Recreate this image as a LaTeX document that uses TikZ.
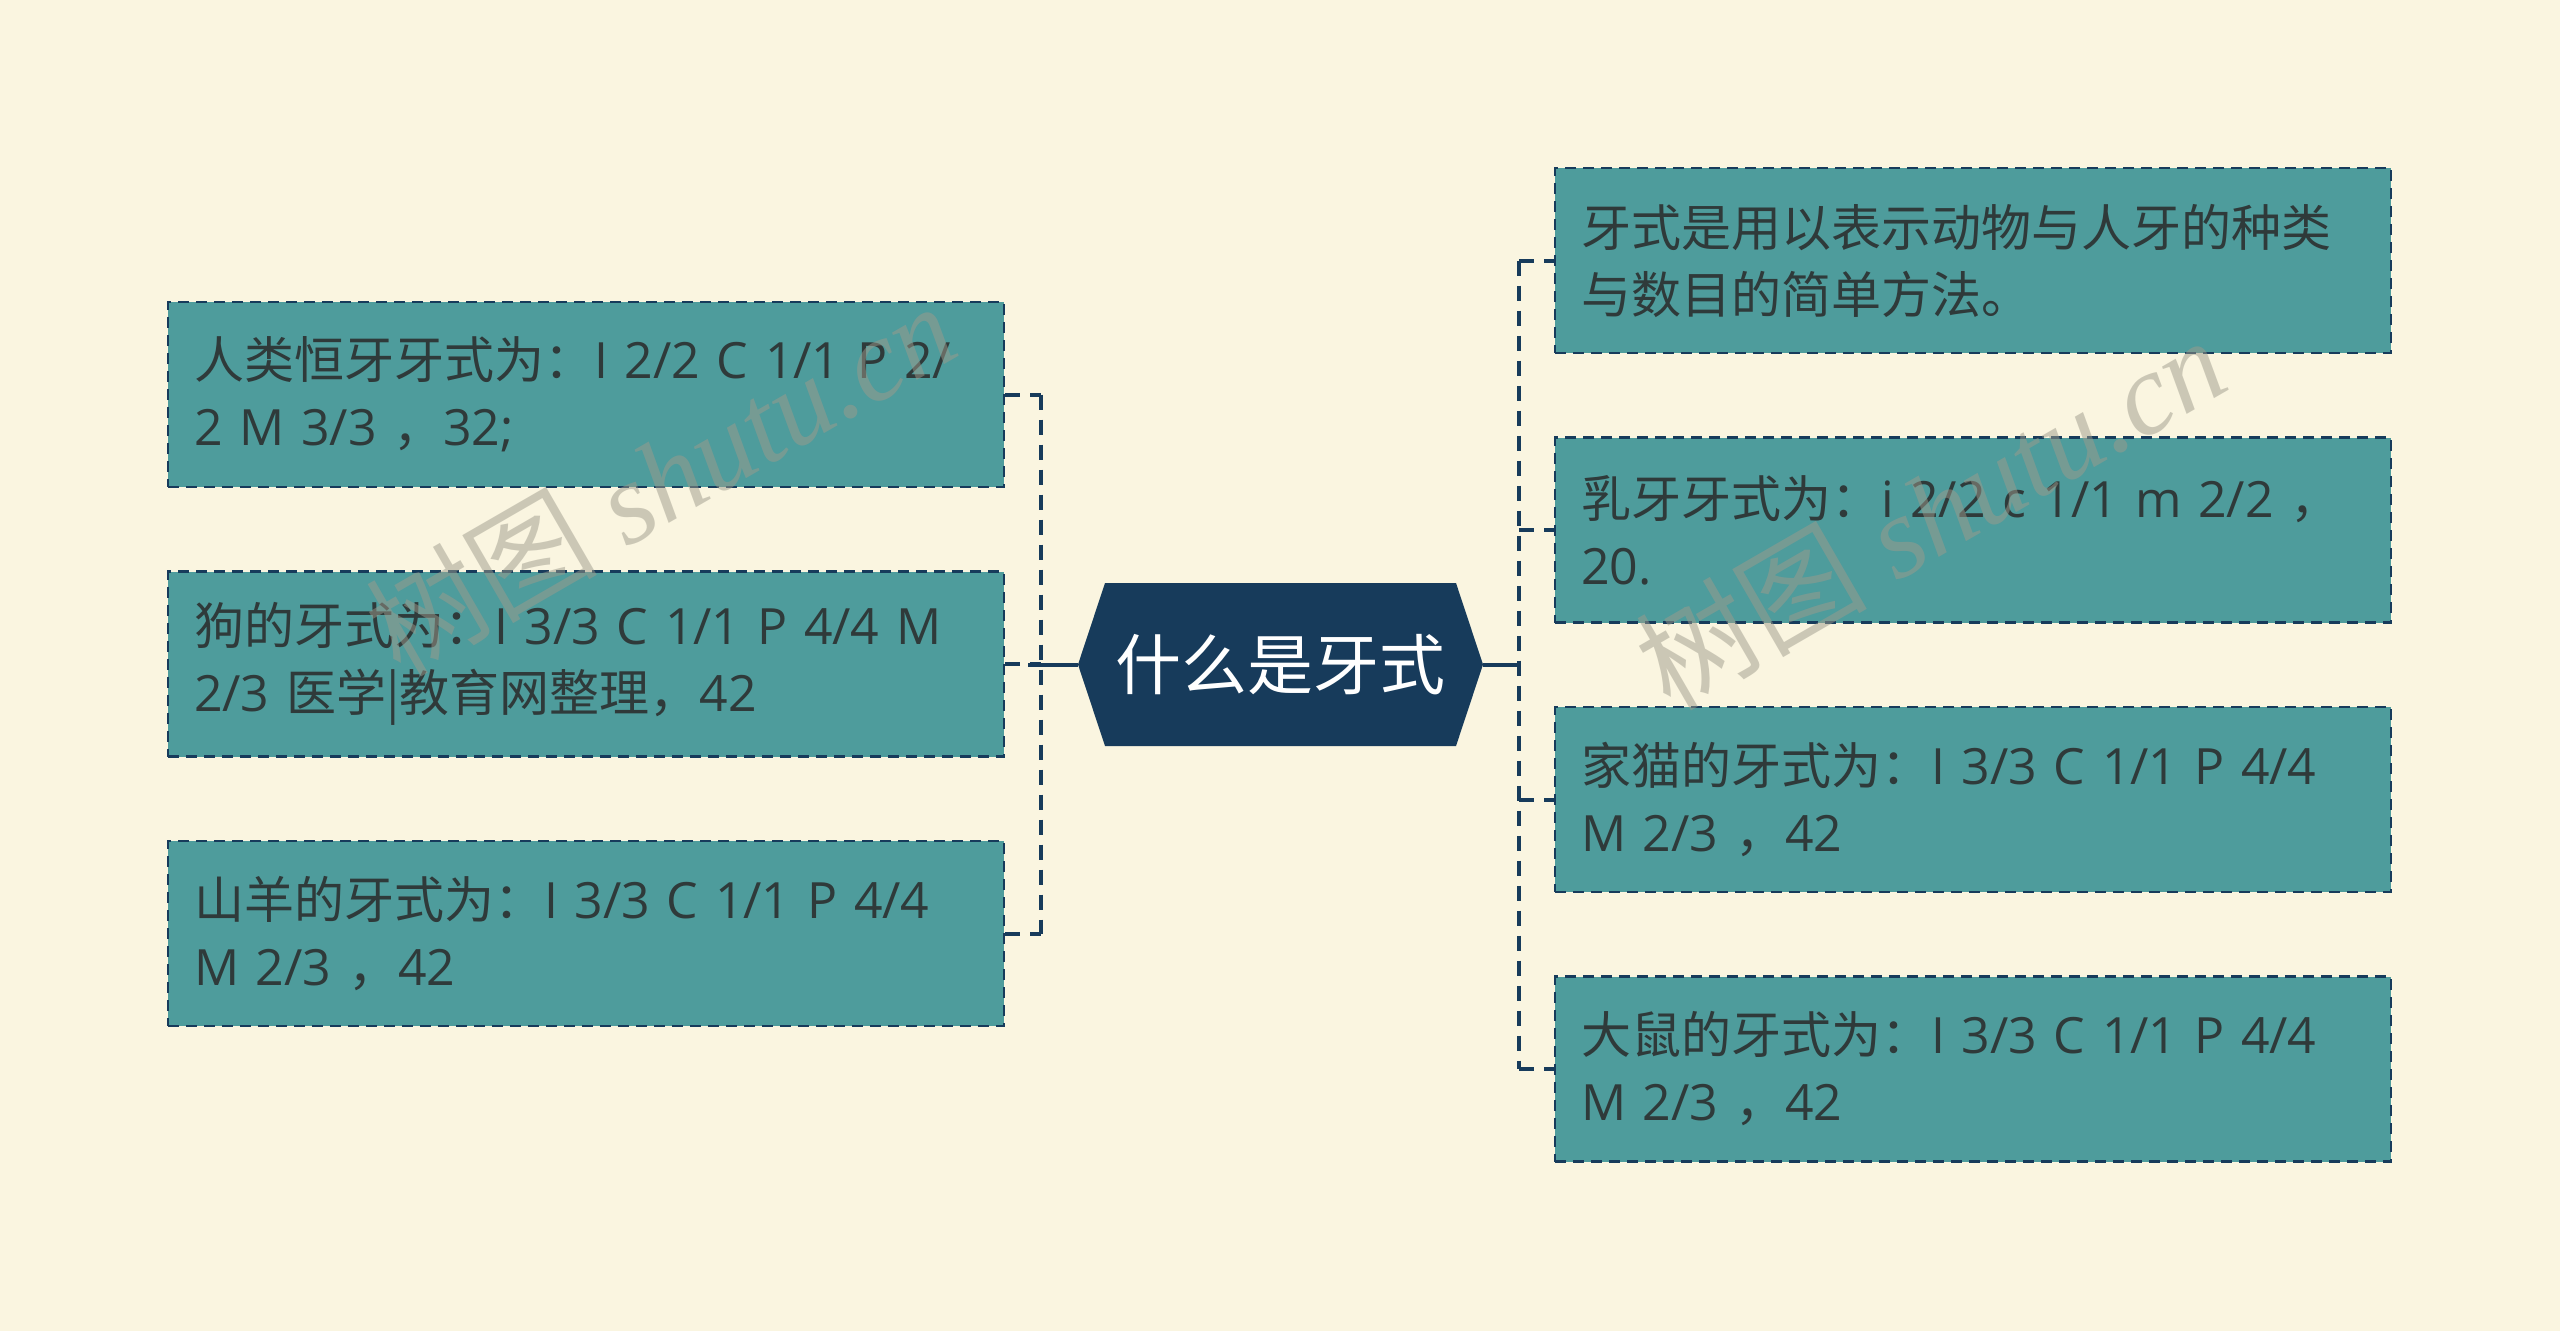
\documentclass[tikz,border=0pt]{standalone}
\usepackage{fontspec}
\setmainfont{Open Sans}
\newfontfamily\cjk{Noto Sans CJK SC}
\newfontfamily\wmserif{Liberation Serif}
\definecolor{bg}{HTML}{FAF5E0}
\definecolor{leaffill}{HTML}{4E9C9C}
\definecolor{navy}{HTML}{173B5B}
\definecolor{txt}{HTML}{2F3A3A}
\definecolor{wmgray}{HTML}{9E9B8C}
\begin{document}
\begin{tikzpicture}[x=1pt,y=-1pt,
  leaf/.style={draw=navy, line width=2.5pt, dash pattern=on 11pt off 7pt, fill=leaffill,
    minimum width=836pt, minimum height=185pt, text width=784pt, inner xsep=26pt, inner ysep=0pt,
    align=left, text=txt, font=\fontsize{50}{67}\selectfont},
  conn/.style={draw=navy, line width=4pt, dash pattern=on 15pt off 10pt},
  connsolid/.style={draw=navy, line width=4pt},
  wm/.style={text=wmgray, text opacity=0.5, rotate=30, font=\wmserif\itshape\fontsize{116}{116}\selectfont}
]
\fill[bg] (0,0) rectangle (2560,1331);
\useasboundingbox (0,0) rectangle (2560,1331);

% centre
\fill[navy] (1078,664.5) -- (1105,583) -- (1456,583) -- (1483,664.5) -- (1456,746) -- (1105,746) -- cycle;
\node[minimum width=405pt, minimum height=163pt, inner sep=0pt, text=white,
  font=\cjk\fontsize{66}{66}\selectfont] (root) at (1280.5,664.5) {什么是牙式};

% leaves left
\node[leaf] (l1) at (586,394.5) {{\cjk 人类恒牙牙式为：}I 2/2 C 1/1 P 2/\\2 M 3/3 {\cjk ，}32;};
\node[leaf] (l2) at (586,664) {{\cjk 狗的牙式为：}I 3/3 C 1/1 P 4/4 M\\2/3 {\cjk 医学|教育网整理，}42};
\node[leaf] (l3) at (586,933.5) {{\cjk 山羊的牙式为：}I 3/3 C 1/1 P 4/4\\M 2/3 {\cjk ，}42};

% leaves right
\node[leaf] (r1) at (1973,260.5) {{\cjk 牙式是用以表示动物与人牙的种类}\\{\cjk 与数目的简单方法。}};
\node[leaf] (r2) at (1973,530) {{\cjk 乳牙牙式为：}i 2/2 c 1/1 m 2/2 {\cjk ，}\\20.};
\node[leaf] (r3) at (1973,799.5) {{\cjk 家猫的牙式为：}I 3/3 C 1/1 P 4/4\\M 2/3 {\cjk ，}42};
\node[leaf] (r4) at (1973,1069) {{\cjk 大鼠的牙式为：}I 3/3 C 1/1 P 4/4\\M 2/3 {\cjk ，}42};

% buses
\coordinate (lbus) at (1041,0);
\coordinate (rbus) at (1519,0);

\draw[connsolid] (root.west) -- ++(-50,0);
\draw[conn] (l1.east -| lbus) -- (l3.east -| lbus);
\draw[conn] (l1.east) -- (l1.east -| lbus);
\draw[conn] (l2.east) -- (l2.east -| lbus);
\draw[conn] (l3.east) -- (l3.east -| lbus);

\draw[connsolid] (root.east) -- (root.east -| rbus);
\draw[conn] (r1.west -| rbus) -- (r4.west -| rbus);
\draw[conn] (r1.west -| rbus) -- (r1.west);
\draw[conn] (r2.west -| rbus) -- (r2.west);
\draw[conn] (r3.west -| rbus) -- (r3.west);
\draw[conn] (r4.west -| rbus) -- (r4.west);

% watermarks
\node[wm] (wm1) at (660,478) {{\upshape\cjk 树图} shutu.cn};
\node[wm] (wm2) at (1930,512) {{\upshape\cjk 树图} shutu.cn};
\end{tikzpicture}
\end{document}
